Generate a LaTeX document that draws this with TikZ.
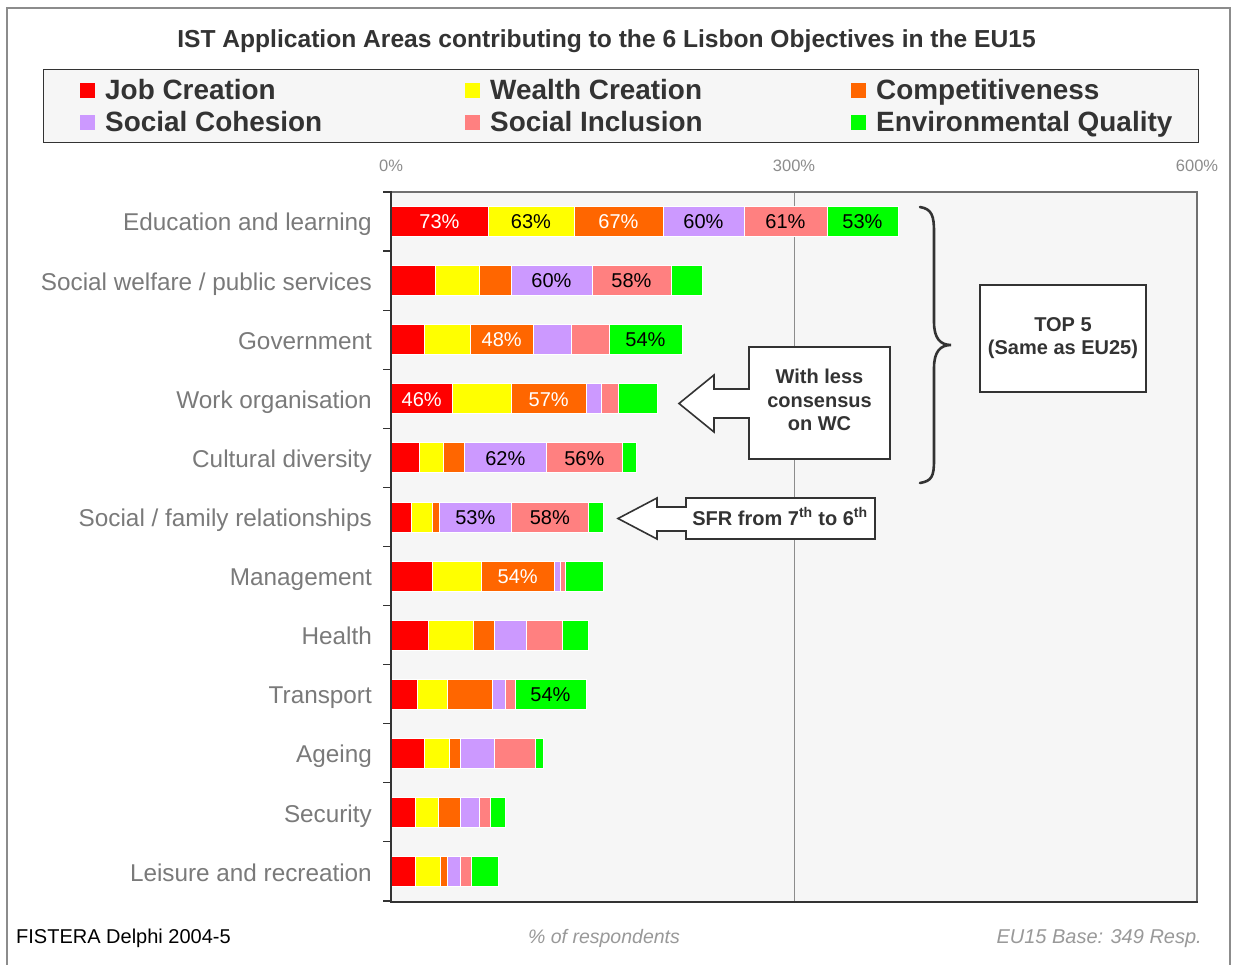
\documentclass[tikz,border=0pt]{standalone}
\usepackage{fontspec}
\setmainfont{Liberation Sans}
\usepackage{graphicx}
\definecolor{cjc}{HTML}{FF0000}
\definecolor{cwc}{HTML}{FFFF00}
\definecolor{ccp}{HTML}{FF6600}
\definecolor{csc}{HTML}{CC99FF}
\definecolor{csi}{HTML}{FF8080}
\definecolor{ceq}{HTML}{00FF00}
\definecolor{plotbg}{HTML}{F6F6F6}
\definecolor{dk}{HTML}{333333}
\definecolor{labgray}{HTML}{7A7A7A}
\definecolor{axgray}{HTML}{8C8C8C}
\definecolor{foot}{HTML}{999999}
\tikzset{
  seg/.style={draw=white, line width=0.8pt},
  cat/.style={anchor=base east, inner sep=0pt, text=labgray, font=\fontsize{24.3}{28}\selectfont},
  pct/.style={anchor=base, inner sep=0pt, font=\fontsize{20}{24}\selectfont},
  axlab/.style={anchor=base, inner sep=0pt, text=axgray, font=\fontsize{16.5}{20}\selectfont},
  legtxt/.style={anchor=base west, inner sep=0pt, text=dk, font=\bfseries\fontsize{27.9}{32}\selectfont},
  legsq/.style={minimum width=15pt, minimum height=15pt, inner sep=0pt, draw=none},
  callout/.style={draw=dk, fill=white, line width=1.6pt, line join=miter},
  calltxt/.style={inner sep=0pt, text=dk, align=center, font=\bfseries\fontsize{20}{23.5}\selectfont},
  tick/.style={draw=dk, line width=1.2pt},
}
\begin{document}
\begin{tikzpicture}[x=1pt,y=-1pt]
\useasboundingbox (0,0) rectangle (1233,965);
\fill[white] (0,0) rectangle (1233,965);
% outer frame
\draw[axgray, line width=2pt] (7,975) -- (7,8) -- (1230,8) -- (1230,975);
% title
\node[anchor=base, inner sep=0pt, text=dk, font=\bfseries\fontsize{24.6}{28}\selectfont] (title) at (606.5,48) {IST Application Areas contributing to the 6 Lisbon Objectives in the EU15};
% legend
\node[draw=dk, fill=plotbg, line width=1pt, minimum width=1155pt, minimum height=73pt, inner sep=0pt] (legend) at (620.5,106.5) {};
\node[legsq, fill=cjc] (lq1) at (87.5,90.5) {};
\node[legtxt] (lt1) at (105,100) {Job Creation};
\node[legsq, fill=cwc] (lq2) at (472.5,90.5) {};
\node[legtxt] (lt2) at (490,100) {Wealth Creation};
\node[legsq, fill=ccp] (lq3) at (858.5,90.5) {};
\node[legtxt] (lt3) at (876,100) {Competitiveness};
\node[legsq, fill=csc] (lq4) at (87.5,122.5) {};
\node[legtxt] (lt4) at (105,132) {Social Cohesion};
\node[legsq, fill=csi] (lq5) at (472.5,122.5) {};
\node[legtxt] (lt5) at (490,132) {Social Inclusion};
\node[legsq, fill=ceq] (lq6) at (858.5,122.5) {};
\node[legtxt] (lt6) at (876,132) {Environmental Quality};
% axis labels
\node[axlab] (ax0) at (391,172) {0\%};
\node[axlab] (ax300) at (794,172) {300\%};
\node[axlab] (ax600) at (1197,172) {600\%};
% plot area
\fill[plotbg] (391,192) rectangle (1197,901);
\draw[axgray, line width=1pt] (794,192) -- (794,901);
\draw[axgray!80!black, line width=1.5pt] (391,192) -- (1197,192) -- (1197,901);
% bars
\foreach \r/\a/\b/\c/\d/\e/\f in {
 0/488/574/663/744/827/898,
 1/435.7/479.3/511/592/671/702.7,
 2/424.3/470/533.3/571.3/609/682,
 3/452.3/511.3/586/601.3/618.3/657.7,
 4/419/443.3/464/546.7/622/636.7,
 5/411/432/439.3/511.3/588.3/603,
 6/432/481.3/554/560/565.3/603,
 7/428/473.7/494/526/562/588,
 8/417/447.3/492.3/505.7/515/586,
 9/424.3/449.3/460.3/494.3/535.7/543,
 10/415.3/438/460.3/479.3/490.3/505.7,
 11/415.3/440/447.3/460.3/471.3/498}{
  \pgfmathsetmacro\yt{192+59.08*\r+14.5}
  \pgfmathsetmacro\yb{192+59.08*\r+44.5}
  \filldraw[seg, fill=cjc] (391,\yt) rectangle (\a,\yb);
  \filldraw[seg, fill=cwc] (\a,\yt) rectangle (\b,\yb);
  \filldraw[seg, fill=ccp] (\b,\yt) rectangle (\c,\yb);
  \filldraw[seg, fill=csc] (\c,\yt) rectangle (\d,\yb);
  \filldraw[seg, fill=csi] (\d,\yt) rectangle (\e,\yb);
  \filldraw[seg, fill=ceq] (\e,\yt) rectangle (\f,\yb);
}
% axis lines and ticks
\draw[dk, line width=2pt] (391,191) -- (391,902) -- (1198,902);
\foreach \r in {0,...,12}{
  \draw[tick] (383,{192+59.08*\r}) -- (391,{192+59.08*\r});
}
% category labels
\node[cat] (c1) at (372,231) {Education and learning};
\node[cat] (c2) at (372,290.1) {Social welfare / public services};
\node[cat] (c3) at (372,349.2) {Government};
\node[cat] (c4) at (372,408.3) {Work organisation};
\node[cat] (c5) at (372,467.4) {Cultural diversity};
\node[cat] (c6) at (372,526.5) {Social / family relationships};
\node[cat] (c7) at (372,585.6) {Management};
\node[cat] (c8) at (372,644.7) {Health};
\node[cat] (c9) at (372,703.8) {Transport};
\node[cat] (c10) at (372,762.9) {Ageing};
\node[cat] (c11) at (372,822) {Security};
\node[cat] (c12) at (372,881.1) {Leisure and recreation};
% percent labels
\node[pct, text=white] (p1) at (439.5,228.7) {73\%};
\node[pct] (p2) at (531,228.7) {63\%};
\node[pct, text=white] (p3) at (618.5,228.7) {67\%};
\node[pct] (p4) at (703.5,228.7) {60\%};
\node[pct] (p5) at (785.5,228.7) {61\%};
\node[pct] (p6) at (862.5,228.7) {53\%};
\node[pct] (p7) at (551.5,287.8) {60\%};
\node[pct] (p8) at (631.5,287.8) {58\%};
\node[pct, text=white] (p9) at (501.7,346.9) {48\%};
\node[pct] (p10) at (645.5,346.9) {54\%};
\node[pct, text=white] (p11) at (421.7,406) {46\%};
\node[pct, text=white] (p12) at (548.7,406) {57\%};
\node[pct] (p13) at (505.3,465.1) {62\%};
\node[pct] (p14) at (584.3,465.1) {56\%};
\node[pct] (p15) at (475.3,524.2) {53\%};
\node[pct] (p16) at (549.8,524.2) {58\%};
\node[pct, text=white] (p17) at (517.7,583.3) {54\%};
\node[pct] (p18) at (550.5,701.5) {54\%};
% brace
\draw[dk, line width=2.6pt, line cap=round] (920,207) .. controls (932,209) and (934,216) .. (934,232) -- (934,322) .. controls (934,338) and (940,345) .. (951,345) .. controls (940,345) and (934,352) .. (934,368) -- (934,460) .. controls (934,476) and (932,481) .. (920,483);
% TOP 5 box
\node[draw=dk, fill=white, line width=1.6pt, minimum width=166pt, minimum height=107pt, inner sep=0pt] (top5) at (1063,338.5) {};
\node[calltxt] (top5t) at (1063,338) {TOP 5\\(Same as EU25)};
% callout 1
\draw[callout] (749,347) -- (890,347) -- (890,459) -- (749,459) -- (749,418) -- (714,418) -- (714,432) -- (679,403.5) -- (714,375) -- (714,389) -- (749,389) -- cycle;
\node[calltxt] (call1) at (819.5,400) {With less\\consensus\\on WC};
% callout 2
\draw[callout] (686,498) -- (875,498) -- (875,539) -- (686,539) -- (686,531) -- (657,531) -- (657,539) -- (618,518.5) -- (657,498) -- (657,507) -- (686,507) -- cycle;
\node[calltxt, anchor=base] (call2) at (780,525.5) {SFR from 7\textsuperscript{th} to 6\textsuperscript{th}};
% footer
\node[anchor=base west, inner sep=0pt, font=\fontsize{20}{24}\selectfont] (f1) at (16,943) {FISTERA Delphi 2004-5};
\node[anchor=base, inner sep=0pt, text=foot, font=\itshape\fontsize{19.5}{24}\selectfont] (f2) at (604,943) {\% of respondents};
\node[anchor=base east, inner sep=0pt, text=foot, font=\itshape\fontsize{20}{24}\selectfont] (f3) at (1202,943) {EU15 Base: 349 Resp.};
\end{tikzpicture}
\end{document}
